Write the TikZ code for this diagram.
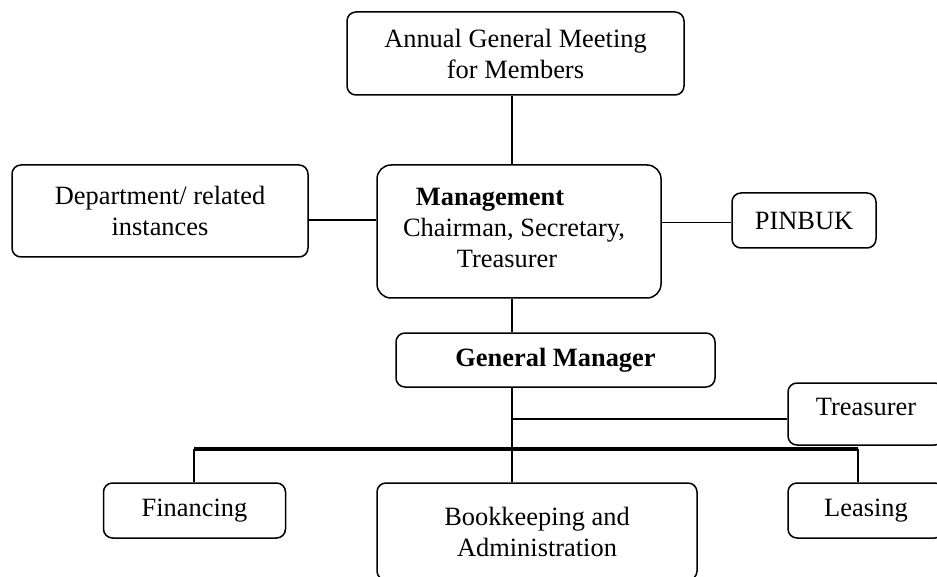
\documentclass[tikz,border=0pt]{standalone}
\usepackage{fontspec}
\setmainfont{Liberation Serif}
\begin{document}
\begin{tikzpicture}[x=1pt,y=-1pt,
  box/.style={draw, rounded corners=9pt, line width=1.5pt, inner sep=0pt, align=center, font=\fontsize{26.4}{31}\selectfont},
  txt/.style={inner sep=0pt, align=center, font=\fontsize{26.4}{31}\selectfont},
  conn/.style={line width=1.4pt},
  bar/.style={line width=3.5pt}]
\clip (0,0) rectangle (937,577);
\node[box, minimum width=337, minimum height=83] (agm) at (515.5,53.5) {Annual General Meeting\\for Members};
\node[box, minimum width=296, minimum height=92] (dept) at (160,211) {Department/ related\\instances};
\node[box, rounded corners=14pt, minimum width=284, minimum height=133] (mgmt) at (519,231.5) {};
\node[txt] (mgmtlabel) at (514,228) {\textbf{Management}\hspace*{48pt}\\Chairman, Secretary,\\Treasurer\hspace*{14pt}};
\node[box, minimum width=144, minimum height=55] (pinbuk) at (804,220.5) {PINBUK};
\node[box, minimum width=319, minimum height=54] (gm) at (555.5,360) {\textbf{General Manager}};
\node[box, minimum width=156, minimum height=62] (treas) at (866,414) {};
\node[txt] (treaslabel) at (866,407) {Treasurer};
\node[box, minimum width=182, minimum height=55] (fin) at (194.5,510.5) {Financing};
\node[box, minimum width=320, minimum height=97] (book) at (537,531.5) {Bookkeeping and\\Administration};
\node[box, minimum width=156, minimum height=55] (lease) at (866,510.5) {Leasing};
\coordinate (spine) at (512,0);
\coordinate (lrow) at (0,220);
\coordinate (rrow) at (0,222.5);
\coordinate (trow) at (0,419);
\coordinate (barl) at (194,449);
\coordinate (barr) at (858,449);
\draw[conn] (agm.south -| spine) -- (mgmt.north -| spine);
\draw[conn] (mgmt.south -| spine) -- (gm.north -| spine);
\draw[conn] (gm.south -| spine) -- (book.north -| spine);
\draw[conn] (dept.east |- lrow) -- (mgmt.west |- lrow);
\draw[conn] (mgmt.east |- rrow) -- (pinbuk.west |- rrow);
\draw[conn] (spine |- trow) -- (treas.west |- trow);
\draw[bar] (barl) -- (barr);
\draw[conn] (barl) -- (fin.north -| barl);
\draw[conn] (barr) -- (lease.north -| barr);
\end{tikzpicture}
\end{document}
